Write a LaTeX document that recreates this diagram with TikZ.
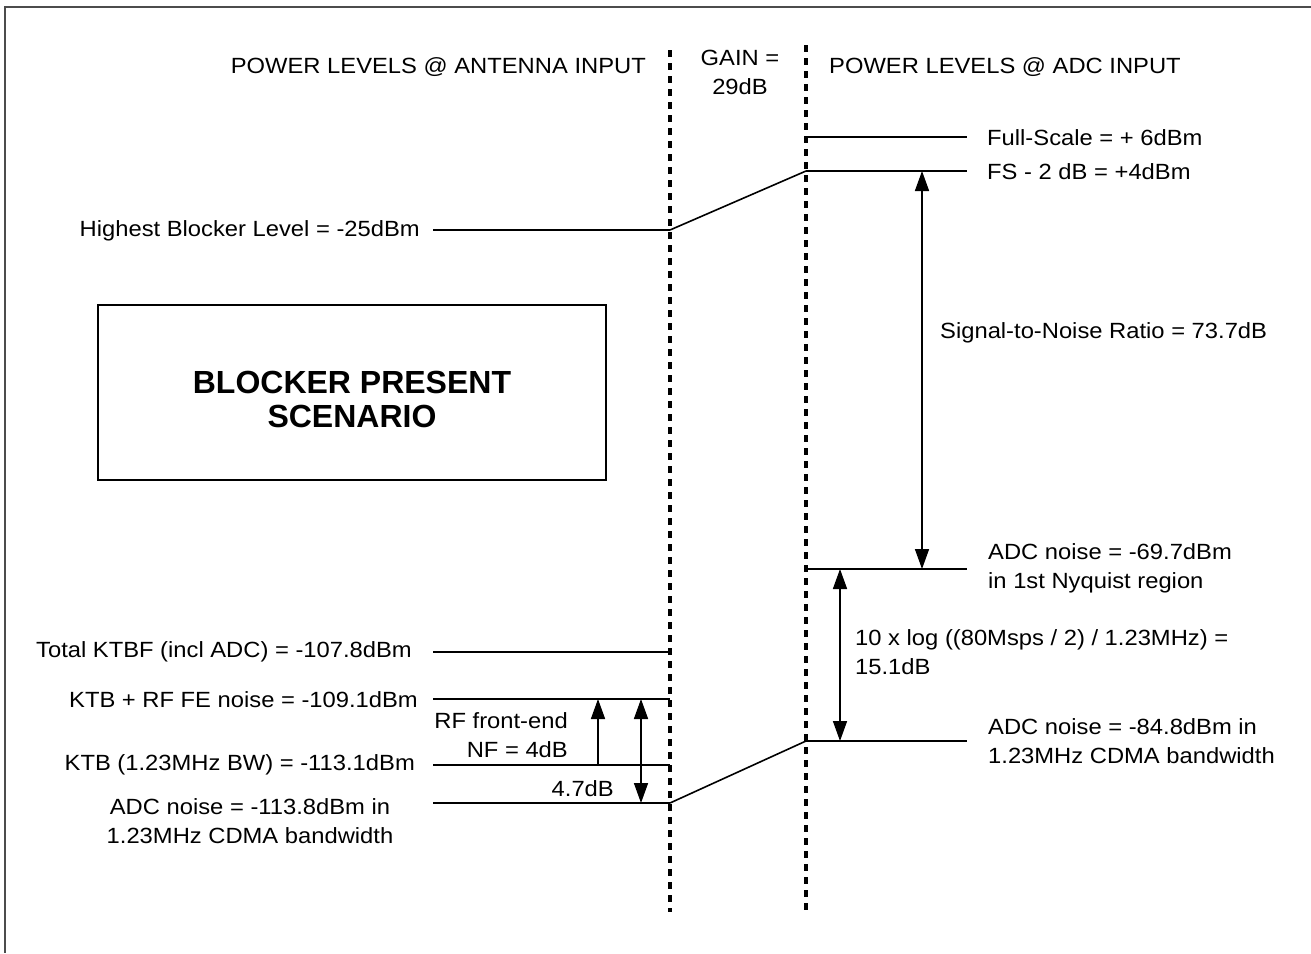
\documentclass[tikz,border=0pt]{standalone}
\usepackage{fontspec}
\setmainfont{Liberation Sans}
\newfontfamily\widesans{Liberation Sans}[FakeStretch=1.08]
\usetikzlibrary{arrows.meta}

\begin{document}
\begin{tikzpicture}[x=1pt, y=-1pt,
  lvl/.style={line width=1.6pt},
  divider/.style={line width=3.6pt, dash pattern=on 7pt off 6pt},
  gap/.style={line width=1.6pt, arrows={Triangle[length=20pt,width=14pt]-Triangle[length=20pt,width=14pt]}},
  rise/.style={line width=1.6pt, arrows={-Triangle[length=20pt,width=14pt]}},
  txt/.style={font=\widesans\fontsize{22}{29}\selectfont, inner sep=0pt}]
\useasboundingbox (0,0) rectangle (1311,953);
\draw[gray!60!black, line width=2pt] (1311,7) -- (5,7) -- (5,953);

\coordinate (antTop) at (670,50);
\coordinate (antBot) at (670,912);
\coordinate (adcTop) at (806,45);
\coordinate (adcBot) at (806,912);
\draw[divider] (antTop) -- (antBot);
\draw[divider] (adcTop) -- (adcBot);

\node[txt, anchor=east] (antHead) at (646,67) {POWER LEVELS @ ANTENNA INPUT};
\node[txt, align=center] (gain) at (740,72) {GAIN =\\29dB};
\node[txt, anchor=west] (adcHead) at (829,67) {POWER LEVELS @ ADC INPUT};

\coordinate (fs) at (806,137);   \coordinate (fsEnd) at (967,137);
\coordinate (fs2) at (806,171);  \coordinate (fs2End) at (967,171);
\coordinate (nyq) at (806,569);  \coordinate (nyqEnd) at (967,569);
\coordinate (cdma) at (806,741); \coordinate (cdmaEnd) at (967,741);
\draw[lvl] (fs) -- (fsEnd);
\draw[lvl] (fs2) -- (fs2End);
\draw[lvl] (nyq) -- (nyqEnd);
\draw[lvl] (cdma) -- (cdmaEnd);

\node[txt, anchor=west] (fsLbl) at (987,138) {Full-Scale = + 6dBm};
\node[txt, anchor=west] (fs2Lbl) at (987,172) {FS - 2 dB = +4dBm};
\node[txt, anchor=west, align=left] (nyqLbl) at (988,568) {ADC noise = -69.7dBm\\in 1st Nyquist region};
\node[txt, anchor=west, align=left] (cdmaLbl) at (988,741) {ADC noise = -84.8dBm in\\1.23MHz CDMA bandwidth};

\coordinate (blk) at (670,230);  \coordinate (blkEnd) at (433,230);
\coordinate (ktbf) at (670,652); \coordinate (ktbfEnd) at (433,652);
\coordinate (fe) at (670,699);   \coordinate (feEnd) at (433,699);
\coordinate (ktb) at (670,765);  \coordinate (ktbEnd) at (433,765);
\coordinate (adn) at (670,803);  \coordinate (adnEnd) at (433,803);
\draw[lvl] (blk) -- (blkEnd);
\draw[lvl] (ktbf) -- (ktbfEnd);
\draw[lvl] (fe) -- (feEnd);
\draw[lvl] (ktb) -- (ktbEnd);
\draw[lvl] (adn) -- (adnEnd);

\node[txt, anchor=east] (blkLbl) at (420,231) {Highest Blocker Level = -25dBm};
\node[txt, anchor=east] (ktbfLbl) at (412,652) {Total KTBF (incl ADC) = -107.8dBm};
\node[txt, anchor=east] (feLbl) at (418,700) {KTB + RF FE noise = -109.1dBm};
\node[txt, anchor=east] (ktbLbl) at (415,765) {KTB (1.23MHz BW) = -113.1dBm};
\node[txt, align=center] (adnLbl) at (250,821) {ADC noise = -113.8dBm in\\1.23MHz CDMA bandwidth};

\draw[lvl] (blk) -- (fs2);
\draw[lvl] (adn) -- (cdma);

\node[draw, line width=1.6pt, minimum width=508pt, minimum height=175pt] (scenario) at (352,392.5) {};
\node[align=center, font=\fontsize{32}{34}\selectfont\bfseries] (scenTxt) at (352,399) {BLOCKER PRESENT\\SCENARIO};

\coordinate (snrX) at (922,0);
\coordinate (logX) at (840,0);
\coordinate (nfX) at (598,0);
\coordinate (totX) at (641,0);
\draw[gap] (fs2 -| snrX) -- (nyq -| snrX);
\draw[gap] (nyq -| logX) -- (cdma -| logX);
\draw[rise] (ktb -| nfX) -- (fe -| nfX);
\draw[gap] (fe -| totX) -- (adn -| totX);

\node[txt, anchor=west] (snrLbl) at (940,333) {Signal-to-Noise Ratio = 73.7dB};
\node[txt, anchor=west, align=left] (logLbl) at (855,652) {10 x log ((80Msps / 2) / 1.23MHz) =\\15.1dB};
\node[txt, anchor=east, align=right] (nfLbl) at (568,735) {RF front-end\\NF = 4dB};
\node[txt, anchor=east] (totLbl) at (614,789) {4.7dB};
\end{tikzpicture}
\end{document}
